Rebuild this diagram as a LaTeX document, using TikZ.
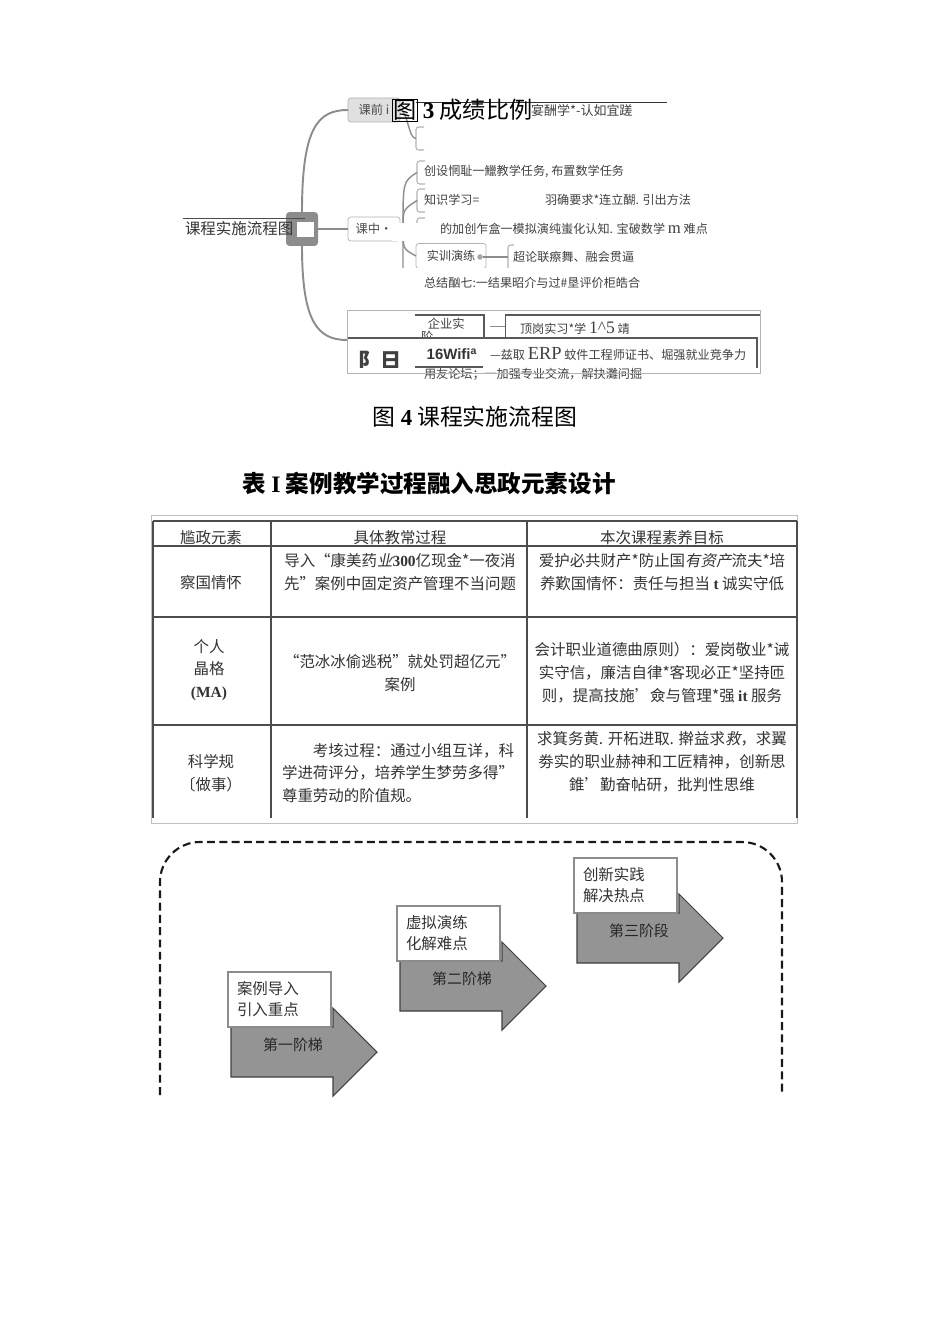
\documentclass[tikz,border=0pt]{standalone}
\usepackage{fontspec}
\newfontfamily\cjk{Noto Sans CJK SC}
\newfontfamily\cjkslant[FakeSlant=0.2]{Noto Sans CJK SC}
\newfontfamily\tms{Liberation Serif}
\newfontfamily\hlv{Liberation Sans}
\usetikzlibrary{positioning, calc}

\begin{document}
\begin{tikzpicture}[
    x=0.02cm, y=-0.02cm,
    every node/.style={inner sep=0pt, outer sep=0pt},
    mmtext/.style={anchor=west, text=black!75, font=\cjk\fontsize{6.9}{7.5}\selectfont},
    mmedge/.style={draw=black!45, line width=1.1pt},
    mmsub/.style={draw=black!45, line width=0.8pt},
    mmbracket/.style={draw=black!30, line width=0.6pt, rounded corners=1.5pt},
    mmbox/.style={draw=black!30, rounded corners=1.5pt, minimum width=1.04cm, minimum height=0.48cm, text=black!70, font=\cjk\fontsize{7}{8}\selectfont},
    darkline/.style={draw=black!65, line width=0.6pt},
    figcap/.style={text=black, font=\cjk\fontsize{13}{15}\selectfont},
    cell/.style={align=center, text=black!80, font=\cjk\fontsize{8.8}{13}\selectfont},
    tabrule/.style={draw=black!70, line width=0.6pt},
    tabframe/.style={draw=black!25, line width=0.5pt},
    stageframe/.style={draw=black!90, line width=1.2pt, dash pattern=on 4.5pt off 2.5pt, rounded corners=0.8cm},
    stage/.style={draw=black!75, fill=black!42, line width=0.6pt},
    stagelabel/.style={text=black!85, font=\cjk\fontsize{8.5}{10}\selectfont},
    notebox/.style={draw=black!45, fill=white, line width=0.6pt, text width=1.7cm, inner xsep=0.18cm, minimum height=1.1cm, align=left, text=black!80, font=\cjk\fontsize{8.8}{12}\selectfont}
]
\useasboundingbox (0,0) rectangle (950,1344);

% mind map
\node[fill=black!45, rounded corners=2pt, minimum width=0.64cm, minimum height=0.68cm] (root) at (302,229) {};
\node[fill=white, minimum width=0.34cm, minimum height=0.3cm] (knob) at (305,229.5) {};
\node[mmtext, text=black!80, font=\cjk\fontsize{8.8}{10}\selectfont] (roottxt) at (185,229) {课程实施流程图};
\draw[black!70, line width=0.5pt] (183,218) -- (305,218);

\node[mmbox, fill=black!12] (pre) at (374,110) {课前 i};
\node[mmbox, fill=white] (mid) at (374,229) {课中•};
\node[draw=black!30, line width=0.5pt, minimum width=8.26cm, minimum height=1.26cm] (post) at (553.5,341.5) {};
\coordinate (postjoin) at (347,340);

\draw[mmedge] (root.north) .. controls +(0,-85) and +(-30,0) .. (pre.west);
\draw[mmedge] (root.east) -- (mid.west);
\draw[mmedge] (root.south) .. controls +(0,75) and +(-30,0) .. (postjoin);

% before class
\node[minimum width=0.2cm, minimum height=0.46cm] (presub) at (421,138.5) {};
\draw[mmbracket] ($(presub.north west)+(8,0)$) -- (presub.north west) -- (presub.south west) -- ++(8,0);
\draw[mmsub] (pre.east) .. controls +(8,0) and +(-8,0) .. (presub.west);
\draw[black!80, line width=0.5pt] (416,102) -- (667,102);
\node[figcap, anchor=west, font=\cjk\fontsize{13.2}{15}\selectfont] (fig3) at (392,110) {{\setlength\fboxsep{0.3pt}\fbox{图}} {\tms\bfseries 3} 成绩比例};
\node[mmtext, font=\cjk\fontsize{7.4}{8}\selectfont] (preitem) at (531,110) {宴酬学*-认如宜蹉};

% in class
\draw[mmsub] (mid.east) -- ++(3,0) coordinate (hub);
\foreach \n/\ya/\yb in {1/161/184, 2/189/212, 3/218/240} {
    \draw[mmbracket] (425,\ya) -- (417,\ya) -- (417,\yb) -- (425,\yb);
    \coordinate (b\n) at (417,{(\ya+\yb)/2});
}
\node[mmtext] (it1) at (424,172) {创设惘耻一鱲教学任务, 布置数学任务};
\node[mmtext] (it2) at (424,200) {知识学习=};
\node[mmtext] (it2b) at (545,200) {羽确要求*连立醐. 引出方法};
\node[mmtext] (it3) at (440,229) {的加创乍盒一模拟演纯蚩化认知. 宝破数学 {\tms\fontsize{9.5}{10}\selectfont m} 难点};
\node[draw=black!30, fill=white, rounded corners=1.5pt, minimum width=1.4cm, minimum height=0.5cm, text=black!75, font=\cjk\fontsize{6.9}{7.5}\selectfont] (it4) at (451,256) {实训演练\hspace{1.2em}};
\node[circle, fill=black!35, minimum size=0.11cm] (it4knob) at (480,257) {};
\coordinate (it4br) at (508,257);
\draw[mmbracket] (514,245) -- (508,245) -- (508,269);
\node[mmtext] (it4b) at (513,257) {超论联瘵舞、融会贯逼};
\coordinate (stemend) at (403,268);

\draw[mmsub] (hub) .. controls ($(hub|-b1)+(0,9)$) .. (b1);
\draw[mmsub] (hub) .. controls ($(hub|-b2)+(0,9)$) .. (b2);
\draw[mmsub] (hub) .. controls (403,249) .. (it4.west);
\draw[mmsub] (hub) -- (stemend);
\draw[mmsub] (it4knob) -- (it4br);
\fill[white] (392,223) rectangle (437,241);
\fill[white] (398,268.5) rectangle (520,276);
\node[mmtext] (it5) at (424,283) {总结酗七:一结果昭介与过\#垦评价柜皓合};

% after class
\node[minimum width=1.38cm, minimum height=0.46cm] (entbox) at (449.5,326.5) {};
\node[minimum width=5.1cm, minimum height=0.46cm] (jobbox) at (632.5,326.5) {};
\node[mmtext, anchor=north west, align=left, font=\cjk\fontsize{7}{7.6}\selectfont] (ent) at (421,318) {\hspace{0.55em}企业实\\阶};
\draw[darkline] (entbox.north west) -- (entbox.north east) -- (entbox.south east);
\draw[darkline] (jobbox.south west) -- (jobbox.north west) -- (jobbox.north east);
\draw[mmsub, line width=0.6pt] ($(entbox.east)+(6,0)$) -- (jobbox.west);
\node[mmtext] (job) at (520,328) {顶岗实习*学 {\tms\fontsize{10}{11}\selectfont 1\textasciicircum5} 靖};

\node[fill=white, minimum width=8.18cm, minimum height=0.6cm] (cert) at (552.5,353) {};
\draw[darkline] (cert.north west) -- (cert.north east) -- (cert.south east);
\begin{scope}
    \clip (cert.north west) rectangle (cert.south east);
    \node[text=black!75, font=\cjk\bfseries\fontsize{12}{12}\selectfont] (big) at (380,361) {阝日};
\end{scope}
\node[text=black!80, font=\hlv\bfseries\fontsize{8.5}{10}\selectfont] (wifi) at (452,354) {16Wifi\textsuperscript{a}};
\draw[darkline] (415,367) -- (483,367);
\node[mmtext] (certtxt) at (490,354) {—兹取 {\tms\fontsize{10.5}{12}\selectfont ERP} 蚊件工程师证书、堀强就业竞争力};
\node[mmtext] (forum) at (424,374) {用友论坛；一加强专业交流，解抉灘问掘};
\draw[draw=black!30, line width=0.5pt] (post.south west) -- (post.south east);

% captions
\node[figcap] (fig4) at (475,417) {图 {\tms\bfseries 4} 课程实施流程图};
\node[figcap, font=\cjk\bfseries\fontsize{13.4}{15}\selectfont] (tab1) at (429,483) {表 {\tms\bfseries I} 案例教学过程融入思政元素设计};

% table
\draw[tabframe] (151,515) rectangle (797,823);
\foreach \y in {521,546,617,725} \draw[tabrule] (153,\y) -- (797,\y);
\foreach \x in {153,271,527,797} \draw[tabrule] (\x,521) -- (\x,818);
\node[cell] (h1) at (211,538) {尴政元素};
\node[cell] (h2) at (400,538) {具体教常过程};
\node[cell] (h3) at (662,538) {本次课程素养目标};
\node[cell] (r1c1) at (211,583) {察国情怀};
\node[cell] (r1c2) at (400,572) {导入“康美药{\cjkslant 业}{\tms\bfseries 300}亿现金*一夜消\\先”案例中固定资产管理不当问题};
\node[cell] (r1c3) at (662,572) {爱护必共财产*防止国{\cjkslant 有资产}流夫*培\\养歎国情怀：责任与担当 {\tms\bfseries t} 诚实守低};
\node[cell] (r2c1) at (209,670) {个人\\晶格\\{\tms\bfseries (MA)}};
\node[cell] (r2c2) at (400,673) {“范冰冰偷逃税”就处罚超亿元”\\案例};
\node[cell] (r2c3) at (662,673) {会计职业道德曲原则）：爱岗敬业*诫\\实守信，廉洁自律*客现必正*坚持匝\\则，提高技施’僉与管理*强 {\tms\bfseries it} 服务};
\node[cell] (r3c1) at (211,773) {科学规\\〔做事）};
\node[cell, align=left] (r3c2) at (398,773) {\hspace{2em}考垓过程：通过小组互详，科\\学进荷评分，培养学生梦劳多得”\\尊重劳动的阶值规。};
\node[cell] (r3c3) at (662,762) {求箕务黄. 开柘进取. 擀益求{\cjkslant 救}，求翼\\劵实的职业赫神和工匠精神，创新思\\錐’勤奋帖研，批判性思维};

% teaching stages
\draw[stageframe] (160,1095) -- (160,842) -- (782,842) -- (782,1095);
\foreach \n/\x/\y/\lab/\la/\lb in {1/231/1027/第一阶梯/案例导入/引入重点, 2/400/961/第二阶梯/虚拟演练/化解难点, 3/577/913/第三阶段/创新实践/解决热点} {
    \draw[stage] (\x,\y) -- ++(102,0) -- ++(0,-19) -- ++(44,44) -- ++(-44,44) -- ++(0,-19) -- ++(-102,0) -- cycle;
    \node[stagelabel] (lab\n) at (\x+62,\y+18) {\lab};
    \node[notebox, anchor=south west] (note\n) at (\x-3,\y) {\la\\\lb};
}
\end{tikzpicture}
\end{document}
